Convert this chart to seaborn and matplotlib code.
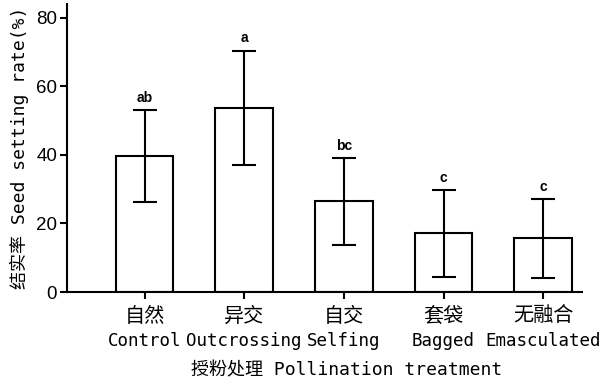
import numpy as np
import matplotlib
matplotlib.use("Agg")
import matplotlib.pyplot as plt
import matplotlib.transforms as mtrans
import seaborn as sns
import pandas as pd

# data
treat_cn = ["自然", "异交", "自交", "套袋", "无融合"]
treat_en = ["Control", "Outcrossing", "Selfing", "Bagged", "Emasculated"]
mean_rate = [39.6, 53.7, 26.4, 17.1, 15.6]
sd_rate = [13.5, 16.7, 12.7, 12.7, 11.6]
letters = ["ab", "a", "bc", "c", "c"]

df = pd.DataFrame({"treat": treat_en, "rate": mean_rate, "sd": sd_rate})

sns.set_style("ticks")
mixed = ["DejaVu Sans Mono", "Noto Sans CJK SC"]
plt.rcParams["font.family"] = ["Liberation Sans", "DejaVu Sans"]
for k in ["text.color", "axes.labelcolor", "xtick.color", "ytick.color",
          "axes.edgecolor"]:
    plt.rcParams[k] = "black"

fig = plt.figure(figsize=(6.02, 3.86), dpi=100)
ax = fig.add_axes([0.111, 0.2435, 0.856, 0.7465])

sns.barplot(data=df, x="treat", y="rate", color="white", edgecolor="black",
            linewidth=1.5, width=0.58, errorbar=None, ax=ax)
for p in ax.patches:
    p.set_facecolor("white")

ax.errorbar(np.arange(len(df)), df["rate"], yerr=df["sd"], fmt="none",
            ecolor="black", elinewidth=1.5, capsize=8.6, capthick=1.5)

for i, (m, s, l) in enumerate(zip(mean_rate, sd_rate, letters)):
    ax.text(i, m + s + 1.5, l, ha="center", va="bottom", fontsize=10,
            fontweight="semibold")

ax.set_ylim(0, 84)
ax.set_xlim(-0.78, 4.39)
ax.set_yticks([0, 20, 40, 60, 80])
ax.tick_params(axis="y", labelsize=13.5, width=1.5, length=5, pad=2)
ax.tick_params(axis="x", width=1.5, length=5, pad=24)
for t in ax.get_xticklabels():
    t.set_fontfamily(mixed)
    t.set_fontsize(12.6)

# chinese line of the category labels, larger than the latin one
trans = mtrans.blended_transform_factory(ax.transData, ax.transAxes)
for i, c in enumerate(treat_cn):
    ax.text(i, -0.085, c, transform=trans, ha="center", va="center",
            family="Noto Sans CJK SC", fontsize=14.5)

ax.set_xlabel("授粉处理 Pollination treatment", family=mixed, fontsize=13)
ax.xaxis.set_label_coords(0.543, -0.24)
ax.set_ylabel("结实率 Seed setting rate(%)", family=mixed, fontsize=13,
              labelpad=5)

sns.despine(ax=ax)
for sp in ["left", "bottom"]:
    ax.spines[sp].set_linewidth(1.5)

fig.savefig("out.png", dpi=100)
